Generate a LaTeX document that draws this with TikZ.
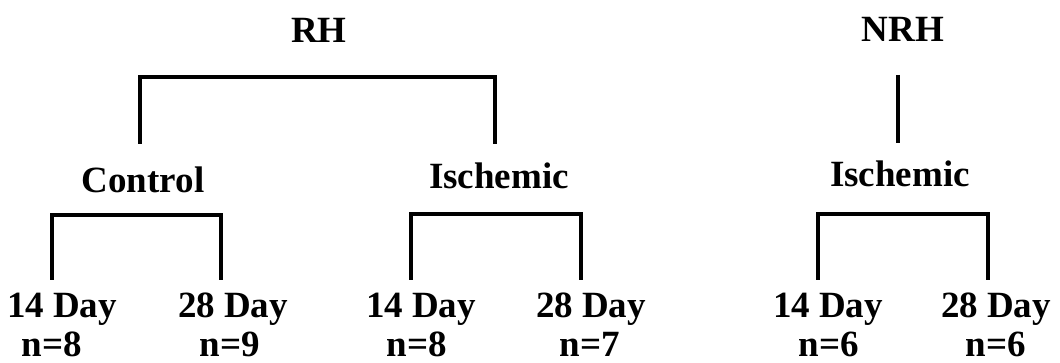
\documentclass[tikz,border=0pt]{standalone}
\usepackage{fontspec}
\setmainfont{Liberation Serif}
\begin{document}
\begin{tikzpicture}[x=1pt,y=-1pt,
  lbl/.style={anchor=base,inner sep=0pt,font=\fontsize{37}{40}\selectfont\bfseries},
  cnt/.style={lbl,text depth=0pt},
  br/.style={line width=3.2pt,line join=miter,line cap=butt}]
\useasboundingbox (0,0) rectangle (1060,363);
% headings
\node[lbl] (rh) at (319,43) {RH};
\node[lbl] (nrh) at (903,42) {NRH};
\node[lbl] (ctrl) at (143,193) {Control};
\node[lbl] (isch) at (499,189) {Ischemic};
\node[lbl] (nisch) at (900,187) {Ischemic};
% leaves
\node[lbl] (a1) at (62,317) {14 Day};
\node[cnt] (a1n) at (52,356) {n=8};
\node[lbl] (a2) at (233,317) {28 Day};
\node[cnt] (a2n) at (230,356) {n=9};
\node[lbl] (b1) at (421,317) {14 Day};
\node[cnt] (b1n) at (417,356) {n=8};
\node[lbl] (b2) at (591,317) {28 Day};
\node[cnt] (b2n) at (590,356) {n=7};
\node[lbl] (c1) at (828,317) {14 Day};
\node[cnt] (c1n) at (829,356) {n=6};
\node[lbl] (c2) at (996,317) {28 Day};
\node[cnt] (c2n) at (996,356) {n=6};
% bracket corners
\coordinate (rhL) at (140,144); \coordinate (rhR) at (495,144);
\coordinate (ctL) at (52,280);  \coordinate (ctR) at (221,280);
\coordinate (isL) at (411,280); \coordinate (isR) at (581,280);
\coordinate (niL) at (818,280); \coordinate (niR) at (988,280);
\coordinate (nrT) at (898,75);  \coordinate (nrB) at (898,143);
% brackets
\draw[br] (rhL) -- (rhL |- 0,77) -- (rhR |- 0,77) -- (rhR);
\draw[br] (ctL) -- (ctL |- 0,215) -- (ctR |- 0,215) -- (ctR);
\draw[br] (isL) -- (isL |- 0,214) -- (isR |- 0,214) -- (isR);
\draw[br] (niL) -- (niL |- 0,214) -- (niR |- 0,214) -- (niR);
\draw[br] (nrT) -- (nrB);
\end{tikzpicture}
\end{document}
